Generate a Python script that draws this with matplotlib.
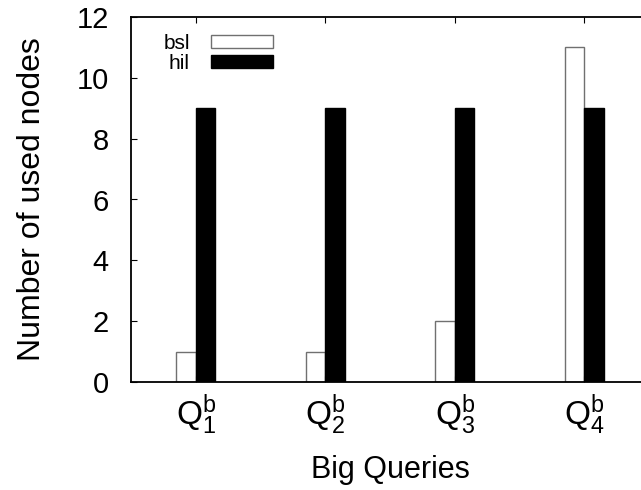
import numpy as np
import matplotlib.pyplot as plt
from matplotlib.patches import Patch

plt.rcParams['font.family'] = ['Liberation Sans', 'DejaVu Sans']
plt.rcParams['mathtext.fontset'] = 'custom'
plt.rcParams['mathtext.rm'] = 'Liberation Sans'
plt.rcParams['mathtext.it'] = 'Liberation Sans'

queries = [r'$\mathrm{Q}_{1}^{\mathrm{b}}$', r'$\mathrm{Q}_{2}^{\mathrm{b}}$',
           r'$\mathrm{Q}_{3}^{\mathrm{b}}$', r'$\mathrm{Q}_{4}^{\mathrm{b}}$']
bsl = [1, 1, 2, 11]
hil = [9, 9, 9, 9]

fig = plt.figure(figsize=(6.41, 4.90), dpi=100)
# axes right edge lies just outside the picture, as in the reference
ax = fig.add_axes([131/641, 1 - 382/490, (649 - 131)/641, (382 - 17)/490])

x = np.arange(1, len(queries) + 1)
w = 0.15
ax.bar(x - w/2, bsl, w, color='white', edgecolor='#707070', linewidth=1.0)
ax.bar(x + w/2, hil, w, color='black', edgecolor='black', linewidth=1.0)

ax.set_xlim(0.5, 4.5)
ax.set_ylim(0, 12)
ax.set_yticks(range(0, 13, 2))
ax.set_xticks(x)
ax.set_xticklabels(queries)
ax.tick_params(axis='both', direction='in', length=4, width=0.8,
               top=True, right=True)
ax.tick_params(axis='x', pad=7, labelsize=24)
ax.tick_params(axis='y', pad=16, labelsize=21)
for s in ax.spines.values():
    s.set_linewidth(1.3)

ax.set_xlabel('Big Queries', fontsize=22, labelpad=13)
ax.set_ylabel('Number of used nodes', fontsize=23, labelpad=21)

handles = [Patch(facecolor='white', edgecolor='#707070', linewidth=1.0, label='bsl'),
           Patch(facecolor='black', edgecolor='black', label='hil')]
ax.legend(handles=handles, loc='upper left', bbox_to_anchor=(0.03, 1.0),
          frameon=False, markerfirst=False, fontsize=15, handlelength=3.0,
          handleheight=0.6, labelspacing=0.05, handletextpad=1.0,
          borderpad=0.3)

fig.savefig('out.png', dpi=100)
